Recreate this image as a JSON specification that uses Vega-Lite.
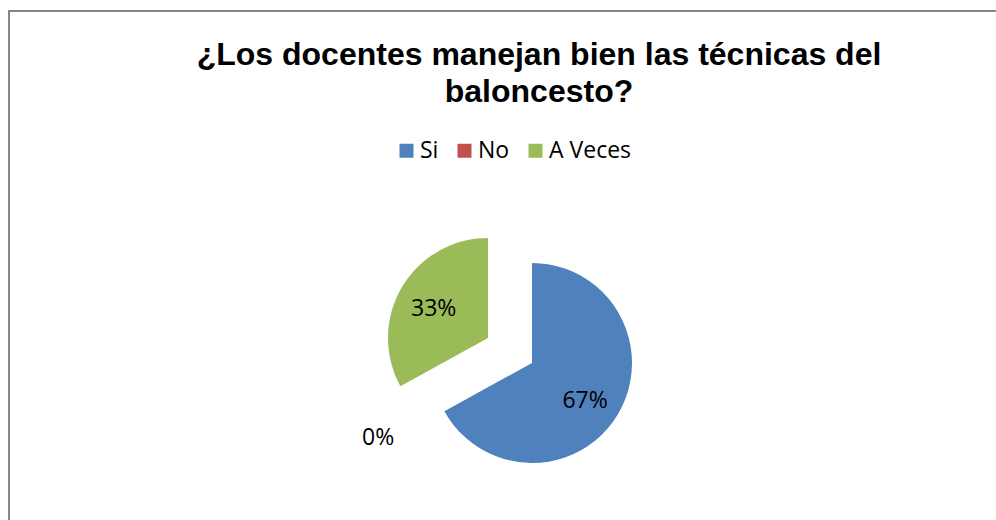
{
  "$schema": "https://vega.github.io/schema/vega-lite/v6.json",
  "width": 1100,
  "height": 511,
  "autosize": "none",
  "padding": {"left": 9, "top": 11, "right": -113, "bottom": -2},
  "background": "white",
  "view": {"stroke": "#868686", "strokeWidth": 2},
  "title": {
    "text": ["¿Los docentes manejan bien las técnicas del", "baloncesto?"],
    "font": "Liberation Sans",
    "fontSize": 32,
    "fontWeight": "bold",
    "color": "#000000",
    "lineHeight": 37,
    "anchor": "middle",
    "offset": -98,
    "dx": -20
  },
  "data": {
    "values": [
      {"respuesta": "Si", "valor": 0.67, "orden": 1},
      {"respuesta": "No", "valor": 0.0, "orden": 2},
      {"respuesta": "A Veces", "valor": 0.33, "orden": 3}
    ]
  },
  "encoding": {
    "theta": {"field": "valor", "type": "quantitative", "stack": true},
    "order": {"field": "orden", "type": "quantitative"}
  },
  "layer": [
    {
      "mark": {"type": "arc", "outerRadius": 100, "xOffset": -27, "yOffset": 96.5},
      "encoding": {
        "color": {
          "field": "respuesta",
          "type": "nominal",
          "scale": {"domain": ["Si", "No", "A Veces"], "range": ["#4F81BD", "#C0504D", "#9BBB59"]},
          "legend": {
            "orient": "none",
            "legendX": 386,
            "legendY": 128,
            "direction": "horizontal",
            "title": null,
            "symbolType": "square",
            "symbolSize": 196,
            "symbolStrokeWidth": 0,
            "symbolOpacity": 1,
            "labelFont": "Open Sans",
            "labelFontSize": 23,
            "labelColor": "#000000",
            "labelOffset": 2,
            "columnPadding": 14
          }
        },
        "opacity": {"condition": {"test": "datum.respuesta === 'Si'", "value": 1}, "value": 0}
      }
    },
    {
      "mark": {"type": "arc", "outerRadius": 100, "xOffset": -71, "yOffset": 71.5},
      "encoding": {
        "color": {"field": "respuesta", "type": "nominal"},
        "opacity": {"condition": {"test": "datum.respuesta === 'A Veces'", "value": 1}, "value": 0}
      }
    },
    {
      "mark": {"type": "text", "radius": 64, "xOffset": -29, "yOffset": 101.5, "font": "Open Sans", "fontSize": 23, "fill": "#000000", "align": "center", "baseline": "middle"},
      "encoding": {
        "text": {"field": "valor", "type": "quantitative", "format": ".0%"},
        "opacity": {"condition": {"test": "datum.respuesta === 'Si'", "value": 1}, "value": 0}
      }
    },
    {
      "mark": {"type": "text", "radius": 62, "xOffset": -72, "yOffset": 74.5, "font": "Open Sans", "fontSize": 23, "fill": "#000000", "align": "center", "baseline": "middle"},
      "encoding": {
        "text": {"field": "valor", "type": "quantitative", "format": ".0%"},
        "opacity": {"condition": {"test": "datum.respuesta === 'A Veces'", "value": 1}, "value": 0}
      }
    },
    {
      "mark": {"type": "text", "radius": 155, "xOffset": -45, "yOffset": 96.5, "font": "Open Sans", "fontSize": 23, "fill": "#000000", "align": "center", "baseline": "middle"},
      "encoding": {
        "text": {"field": "valor", "type": "quantitative", "format": ".0%"},
        "opacity": {"condition": {"test": "datum.respuesta === 'No'", "value": 1}, "value": 0}
      }
    }
  ]
}
